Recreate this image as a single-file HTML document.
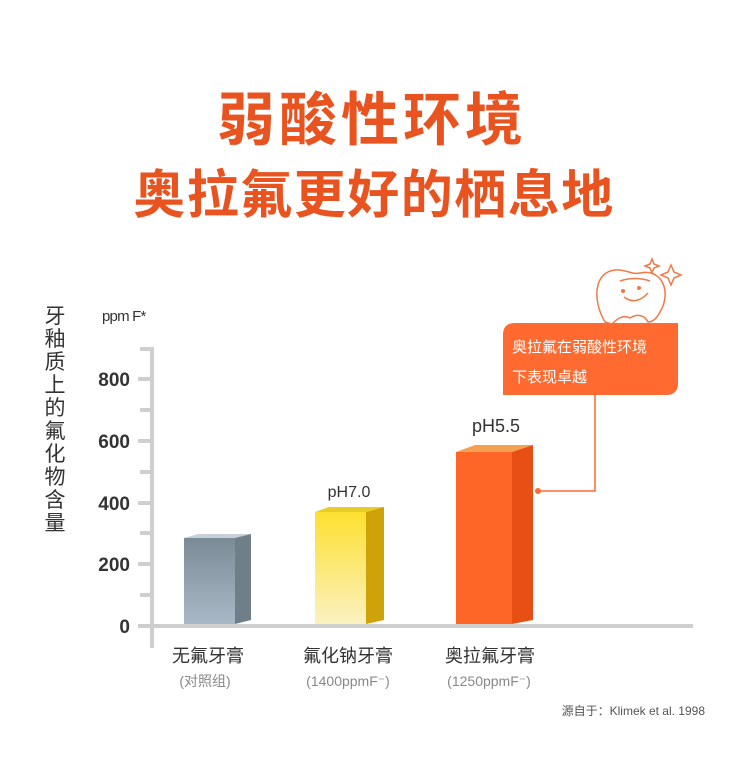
<!DOCTYPE html>
<html><head><meta charset="utf-8"><style>
body{margin:0;width:750px;height:773px;background:#fff;overflow:hidden;font-family:"Liberation Sans","Noto Sans CJK SC",sans-serif}
</style></head><body>
<svg width="750" height="773" xmlns="http://www.w3.org/2000/svg" style="font-family:'Liberation Sans','Noto Sans CJK SC',sans-serif">
<defs>
<linearGradient id="g1" x1="0" y1="0" x2="0" y2="1"><stop offset="0" stop-color="#7a8b96"/><stop offset="1" stop-color="#a9b8c6"/></linearGradient>
<linearGradient id="g2" x1="0" y1="0" x2="0" y2="1"><stop offset="0" stop-color="#fde030"/><stop offset="1" stop-color="#fbf1c0"/></linearGradient>
</defs>
<text x="372" y="140" text-anchor="middle" font-size="58" font-weight="bold" fill="#e9531f" letter-spacing="4">弱酸性环境</text>
<text x="374" y="213" text-anchor="middle" font-size="52" font-weight="bold" fill="#e9531f" letter-spacing="1.5">奥拉氟更好的栖息地</text>
<g font-size="21" fill="#333" text-anchor="middle">
<text x="55" y="323">牙</text><text x="55" y="346">釉</text><text x="55" y="369">质</text><text x="55" y="392">上</text><text x="55" y="415">的</text><text x="55" y="438">氟</text><text x="55" y="461">化</text><text x="55" y="484">物</text><text x="55" y="507">含</text><text x="55" y="530">量</text>
</g>
<text x="102" y="321" font-size="15" fill="#333" letter-spacing="-0.8">ppm F*</text>
<g stroke="#cfcfcf" stroke-width="4">
<line x1="152" y1="347" x2="152" y2="648"/>
<line x1="138" y1="626" x2="693" y2="626"/>
<line x1="138" y1="379" x2="152" y2="379"/><line x1="140" y1="410" x2="152" y2="410"/>
<line x1="138" y1="441" x2="152" y2="441"/><line x1="140" y1="472" x2="152" y2="472"/>
<line x1="138" y1="503" x2="152" y2="503"/><line x1="140" y1="533" x2="152" y2="533"/>
<line x1="138" y1="564" x2="152" y2="564"/><line x1="140" y1="595" x2="152" y2="595"/>
<line x1="140" y1="349" x2="152" y2="349"/>
</g>
<g font-size="19" font-weight="bold" fill="#333" text-anchor="end">
<text x="130" y="386">800</text><text x="130" y="448">600</text><text x="130" y="510">400</text><text x="130" y="571">200</text><text x="130" y="633">0</text>
</g>
<polygon points="184,538 198,534 251,534 235,538" fill="#c7d0d8"/>
<rect x="184" y="538" width="51" height="86" fill="url(#g1)"/>
<polygon points="235,538 251,534 251,620 235,624" fill="#6e7f8a"/>
<polygon points="315,512 329,507 384,507 366,512" fill="#e8cc28"/>
<rect x="315" y="512" width="51" height="112" fill="url(#g2)"/>
<polygon points="366,512 384,507 384,620 366,624" fill="#cfa20a"/>
<polygon points="456,452 475,445 533,445 512,452" fill="#f4a052"/>
<rect x="456" y="452" width="56" height="172" fill="#fe6628"/>
<polygon points="512,452 533,445 533,620 512,624" fill="#e84f15"/>
<text x="349" y="497" text-anchor="middle" font-size="16" fill="#333">pH7.0</text>
<text x="496" y="432" text-anchor="middle" font-size="18" fill="#333">pH5.5</text>
<path d="M515,323 H678 V383 Q678,395 666,395 H503 V335 Q503,323 515,323Z" fill="#fe6a2f"/>
<text x="512" y="352" font-size="15" fill="#fff">奥拉氟在弱酸性环境</text>
<text x="512" y="382" font-size="15" fill="#fff">下表现卓越</text>
<polyline points="595,395 595,491 538,491" fill="none" stroke="#fe6a2f" stroke-width="1.5"/>
<circle cx="538" cy="491" r="3" fill="#fe6a2f"/>
<g fill="none" stroke="#f07a45" stroke-width="1.5">
<path d="M605,322 C592,300 594,272 615,270 C625,269 632,275 640,273 C662,268 672,292 660,312 C656,320 652,322 648,322 C644,314 636,314 630,318 C622,314 616,320 612,324Z"/>
<path d="M620,281 Q635,276 650,281"/>
<path d="M624,297 Q636,306 648,293"/>
<path d="M650,264 l2,-5 l2,5 l5,2 l-5,2 l-2,5 l-2,-5 l-5,-2z"/>
<path d="M668,272 l3,-7 l3,7 l7,3 l-7,3 l-3,7 l-3,-7 l-7,-3z"/>
</g>
<circle cx="623" cy="291" r="2" fill="#f07a45"/><circle cx="639" cy="288" r="2" fill="#f07a45"/>
<g text-anchor="middle" fill="#333" font-size="18">
<text x="208" y="662">无氟牙膏</text><text x="348" y="662">氟化钠牙膏</text><text x="490" y="662">奥拉氟牙膏</text>
</g>
<g text-anchor="middle" fill="#888" font-size="14">
<text x="205" y="686">(对照组)</text><text x="348" y="686">(1400ppmF⁻)</text><text x="489" y="686">(1250ppmF⁻)</text>
</g>
<text x="705" y="715" text-anchor="end" font-size="12" fill="#555">源自于：Klimek et al. 1998</text>
</svg>
</body></html>
